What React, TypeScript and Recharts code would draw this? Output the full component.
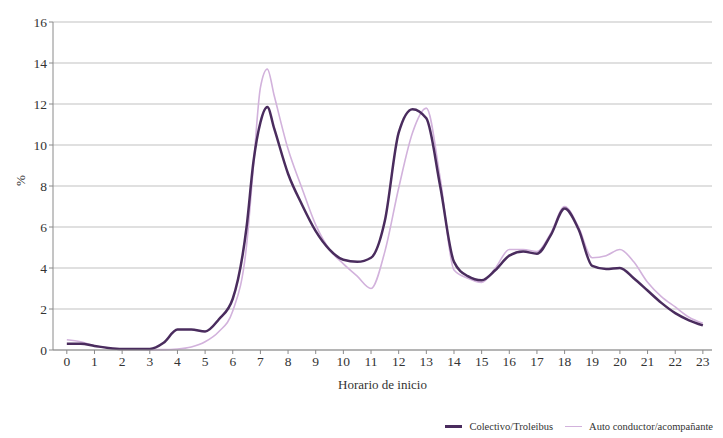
import { LineChart, Line, XAxis, YAxis, CartesianGrid } from 'recharts';

// hour of day (mostly half-hour steps, quarter hours around the morning peak)
const hours = [
    0, 0.5, 1, 1.5, 2, 2.5, 3, 3.5, 4, 4.5, 5, 5.5, 6, 6.5, 6.75, 7, 7.25, 7.5, 8, 8.5, 9, 9.5, 10, 10.5,
    11, 11.5, 12, 12.5, 13, 13.5, 14, 14.5, 15, 15.5, 16, 16.5, 17, 17.5, 18, 18.5, 19, 19.5, 20, 20.5,
    21, 21.5, 22, 22.5, 23,
];

const colectivo = [
    0.3, 0.3, 0.2, 0.1, 0.05, 0.05, 0.05, 0.35, 1.0, 1.0, 0.9, 1.5, 2.5, 6.0, 9.2, 11.1, 11.85, 10.8, 8.6,
    7.1, 5.8, 4.9, 4.4, 4.3, 4.5, 6.3, 10.6, 11.75, 11.3, 8.0, 4.3, 3.6, 3.4, 3.9, 4.6, 4.8, 4.7, 5.6,
    6.9, 5.9, 4.1, 3.95, 4.0, 3.5, 2.9, 2.3, 1.8, 1.45, 1.2,
];

const auto = [
    0.5, 0.4, 0.2, 0.1, 0.05, 0.05, 0.02, 0.02, 0.05, 0.15, 0.4, 0.9, 1.9, 5.1, 9.0, 12.8, 13.7, 12.4, 9.8,
    7.9, 6.1, 4.9, 4.2, 3.6, 3.0, 4.8, 7.9, 10.6, 11.8, 8.4, 3.9, 3.5, 3.3, 4.0, 4.9, 4.9, 4.8, 5.7, 7.0,
    6.0, 4.5, 4.6, 4.9, 4.3, 3.3, 2.6, 2.1, 1.6, 1.3,
];

const xTicks = [0, 1, 2, 3, 4, 5, 6, 7, 8, 9, 10, 11, 12, 13, 14, 15, 16, 17, 18, 19, 20, 21, 22, 23];
const yTicks = [0, 2, 4, 6, 8, 10, 12, 14, 16];

const seriesNames = ['Colectivo/Troleibus', 'Auto conductor/acompañante'];
const DARK = '#4a2c5e';
const LIGHT = '#d2b2dc';

const data = hours.map((h, i) => ({ h, colectivo: colectivo[i], auto: auto[i] }));

const font = '"Liberation Serif", "DejaVu Serif", serif';

export default function App() {
    return (
        <div style={{ position: 'fixed', top: 0, left: 0, width: 723, height: 438, background: '#fff' }}>
            <LineChart width={723} height={438} data={data} margin={{ top: 22, right: 11, bottom: 58, left: 0 }}>
                <CartesianGrid vertical={false} stroke="#d6d6d6" strokeWidth={1.5} />
                <XAxis
                    dataKey="h"
                    type="number"
                    domain={[-0.5, 23.33]}
                    ticks={xTicks}
                    interval={0}
                    stroke="#8a8a8a"
                    tickSize={4}
                    tick={{ fontFamily: font, fontSize: 13.5, fill: '#333' }}
                    label={{
                        value: 'Horario de inicio',
                        position: 'insideBottom',
                        offset: -9,
                        style: { fontFamily: font, fontSize: 13, fill: '#333' },
                    }}
                />
                <YAxis
                    width={53}
                    domain={[0, 16]}
                    ticks={yTicks}
                    interval={0}
                    stroke="#8a8a8a"
                    tickSize={4}
                    tick={{ fontFamily: font, fontSize: 13.5, fill: '#333' }}
                    label={{
                        value: '%',
                        angle: -90,
                        position: 'insideLeft',
                        offset: 20,
                        style: { fontFamily: font, fontSize: 13, fill: '#333' },
                    }}
                />
                <Line
                    type="monotone"
                    dataKey="auto"
                    name={seriesNames[1]}
                    stroke={LIGHT}
                    strokeWidth={1.6}
                    dot={false}
                    isAnimationActive={false}
                />
                <Line
                    type="monotone"
                    dataKey="colectivo"
                    name={seriesNames[0]}
                    stroke={DARK}
                    strokeWidth={2.5}
                    dot={false}
                    isAnimationActive={false}
                />
            </LineChart>
            <div
                style={{
                    position: 'absolute',
                    top: 421,
                    right: 10,
                    display: 'flex',
                    gap: 12,
                    fontFamily: font,
                    fontSize: 10.5,
                    color: '#333',
                    whiteSpace: 'nowrap',
                }}
            >
                {[DARK, LIGHT].map((c, i) => (
                    <span key={i} style={{ display: 'flex', alignItems: 'center', gap: 7 }}>
                        <span style={{ display: 'inline-block', width: 17, height: i === 0 ? 2.5 : 1.5, background: c }} />
                        {seriesNames[i]}
                    </span>
                ))}
            </div>
        </div>
    );
}
